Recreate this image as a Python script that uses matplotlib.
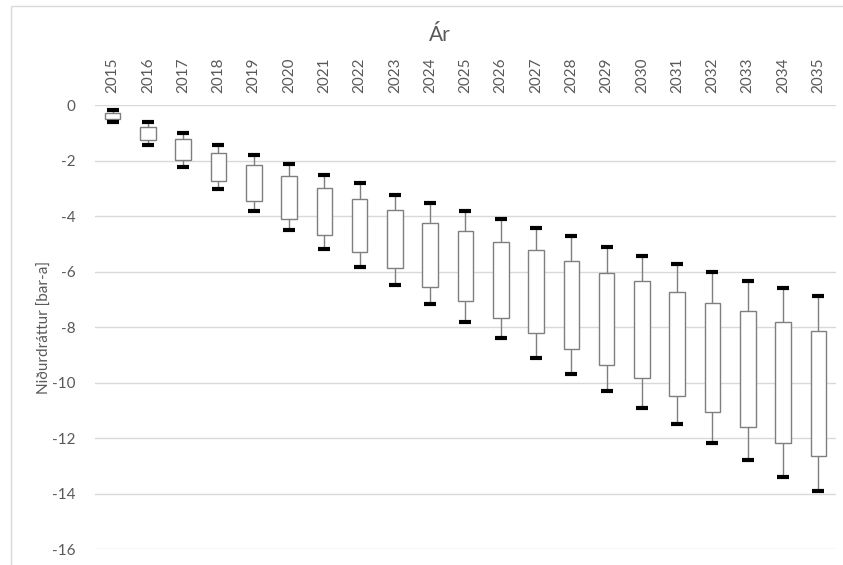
import matplotlib
matplotlib.use("Agg")
import matplotlib.pyplot as plt
from matplotlib.ticker import MultipleLocator
from matplotlib.patches import Rectangle
import numpy as np

plt.rcParams['font.family'] = ['Lato', 'DejaVu Sans']
plt.rcParams['axes.unicode_minus'] = False

years = [str(y) for y in range(2015, 2036)]
# whisker top (max), box top, box bottom, whisker bottom (min)
y_max = [-0.17, -0.60, -0.99, -1.42, -1.80, -2.12, -2.50, -2.81, -3.22, -3.52, -3.80,
         -4.10, -4.41, -4.71, -5.11, -5.42, -5.72, -6.02, -6.33, -6.57, -6.87]
y_q3 = [-0.29, -0.77, -1.23, -1.71, -2.16, -2.54, -2.97, -3.37, -3.76, -4.24, -4.54,
        -4.94, -5.21, -5.61, -6.03, -6.34, -6.74, -7.11, -7.41, -7.80, -8.13]
y_q1 = [-0.50, -1.25, -1.98, -2.72, -3.45, -4.09, -4.67, -5.29, -5.87, -6.56, -7.06,
        -7.65, -8.19, -8.78, -9.36, -9.84, -10.46, -11.06, -11.58, -12.16, -12.64]
y_min = [-0.60, -1.43, -2.21, -3.00, -3.80, -4.49, -5.19, -5.82, -6.49, -7.17, -7.80,
         -8.40, -9.09, -9.68, -10.28, -10.90, -11.47, -12.18, -12.78, -13.39, -13.89]

TXT = "#595959"
GRID = "#d9d9d9"

fig = plt.figure(figsize=(8.43, 5.65), dpi=100)
ax = fig.add_axes([95/843, (565-549.3)/565, (836-95)/843, (549.3-105.3)/565])

x = np.arange(len(years))
q1 = np.array(y_q1)
q3 = np.array(y_q3)

ax.vlines(x, y_q3, y_max, color="#7f7f7f", lw=1, zorder=2)
ax.vlines(x, y_min, y_q1, color="#7f7f7f", lw=1, zorder=2)
ax.bar(x, q3 - q1, bottom=q1, width=0.44, color="white", edgecolor="#7f7f7f",
       linewidth=1, zorder=3)
ax.plot(x, y_max, ls="none", marker="_", ms=8, mew=3, color="black", zorder=4)
ax.plot(x, y_min, ls="none", marker="_", ms=8, mew=3, color="black", zorder=4)

ax.set_xlim(-0.5, len(years) - 0.5)
ax.set_ylim(-16, 0)
ax.yaxis.set_major_locator(MultipleLocator(2))
ax.grid(axis="y", color=GRID, lw=1)
ax.set_axisbelow(True)
for s in ax.spines.values():
    s.set_visible(False)

ax.xaxis.tick_top()
ax.set_xticks(x)
ax.set_xticklabels(years, rotation=90, fontsize=11, color=TXT)
ax.tick_params(axis="x", length=0, pad=9)
ax.tick_params(axis="y", length=0, pad=14, labelsize=11, labelcolor=TXT)

ax.set_ylabel("Niðurdráttur [bar-a]", fontsize=11, color=TXT)
ax.yaxis.set_label_coords(-0.058, 0.5)
fig.text(440/843, 1 - 35/565, "Ár", fontsize=15, color=TXT, ha="center", va="center")

fig.patches.append(Rectangle((11/843, -0.05), 1.0, 1 - 6/565 + 0.05,
                             transform=fig.transFigure, fill=False,
                             edgecolor="#d9d9d9", lw=1))

fig.savefig("out.png", dpi=100)
